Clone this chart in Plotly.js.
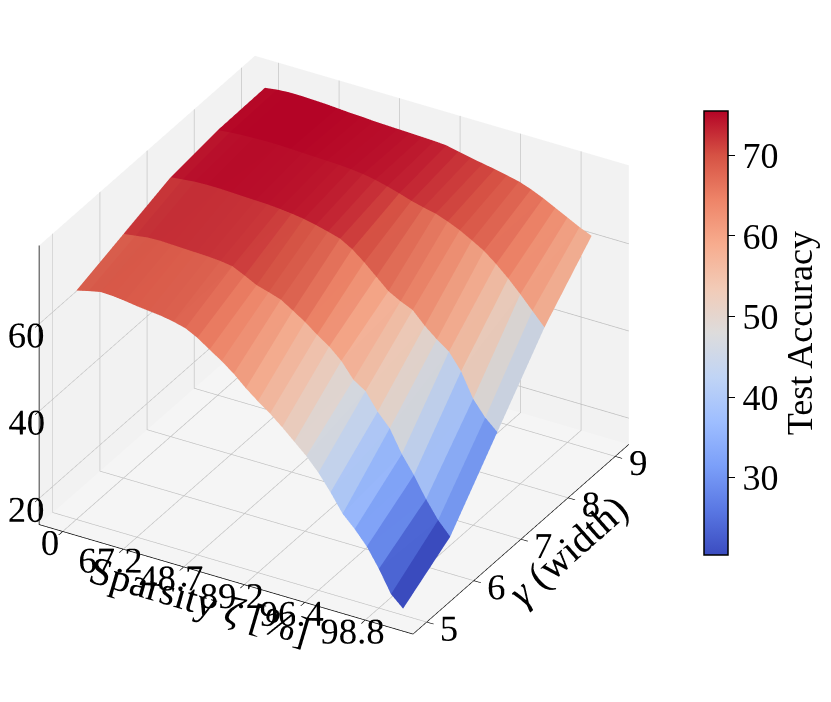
<!DOCTYPE html>
<html>
<head>
<meta charset="utf-8">
<script src="https://cdn.plot.ly/plotly-3.0.1.min.js"></script>
<style>
  html, body { margin: 0; padding: 0; background: #ffffff; }
  #chart { width: 831px; height: 702px; }
</style>
</head>
<body>
<div id="chart"></div>
<script>
// ---- data ----
const sparsityLabels = ["0", "67.2", "48.7", "89.2", "96.4", "98.8"];
const sparsityTickPos = [0, 1, 2, 3, 4, 5];
const sparsityGrid = [0, 0.2, 0.4, 0.6, 0.8, 1.0, 1.2, 1.4, 1.6, 1.8, 2.0, 2.2, 2.4, 2.6,
                      2.8, 3.0, 3.2, 3.4, 3.6, 3.8, 4.0, 4.2, 4.4, 4.6, 4.8, 5.0, 5.2, 5.4];
const widthValues = [5, 6, 7, 8, 9];

const accWidth5 = [66.5, 67.2, 67.8, 67.7, 67.4, 67.0, 66.7, 66.4, 65.9, 65.2, 63.8, 61.9, 60.1, 58.0,
                   55.5, 53.3, 51.3, 49.0, 46.5, 44.0, 41.0, 37.3, 33.2, 30.5, 27.3, 23.0, 18.0, 15.5];
const accWidth6 = [70.0, 70.4, 70.8, 70.9, 70.8, 70.7, 70.6, 70.5, 70.3, 69.9, 68.6, 67.2, 66.4, 65.5,
                   63.8, 62.0, 59.9, 58.0, 55.5, 52.0, 50.2, 46.3, 43.3, 38.2, 34.2, 29.5, 25.5, 22.5];
const accWidth7 = [73.5, 73.8, 74.1, 74.2, 74.2, 74.1, 74.0, 73.9, 73.8, 73.6, 73.3, 72.9, 72.3, 71.6,
                   70.8, 69.2, 67.0, 64.5, 62.0, 60.5, 59.3, 56.5, 54.2, 52.2, 48.5, 43.0, 39.5, 37.0];
const accWidth8 = [74.8, 75.1, 75.3, 75.4, 75.5, 75.5, 75.4, 75.3, 75.2, 75.1, 75.0, 74.8, 74.5, 74.0,
                   73.3, 72.5, 71.6, 70.9, 70.3, 69.3, 68.1, 66.6, 65.0, 62.8, 60.3, 57.5, 54.5, 51.5];
const accWidth9 = [75.0, 75.4, 75.6, 75.6, 75.5, 75.4, 75.2, 75.0, 74.9, 74.7, 74.6, 74.5, 74.4, 74.3,
                   74.2, 74.0, 73.4, 72.8, 72.3, 71.8, 71.2, 70.6, 69.6, 68.4, 67.0, 65.6, 64.2, 63.0];
const accuracyRows = [accWidth5, accWidth6, accWidth7, accWidth8, accWidth9];

const accTicks = [20, 40, 60];
const colorbarTicks = [30, 40, 50, 60, 70];

// matplotlib "coolwarm"
const coolwarm = [
  [0.0, '#3b4cc0'], [0.1, '#5977e3'], [0.2, '#7b9ff9'], [0.3, '#9ebeff'],
  [0.4, '#c0d4f5'], [0.5, '#dddcdc'], [0.6, '#f2cbb7'], [0.7, '#f7ac8e'],
  [0.8, '#ee8468'], [0.9, '#d65244'], [1.0, '#b40426']
];

// ---- build a faceted surface (one flat colour per grid cell, like plot_surface) ----
const nx = sparsityGrid.length, ny = widthValues.length;
const vx = [], vy = [], vz = [];
for (let r = 0; r < ny; r++) {
  for (let c = 0; c < nx; c++) {
    vx.push(sparsityGrid[c]);
    vy.push(widthValues[r]);
    vz.push(accuracyRows[r][c]);
  }
}
const ti = [], tj = [], tk = [], cellValue = [];
for (let r = 0; r < ny - 1; r++) {
  for (let c = 0; c < nx - 1; c++) {
    const a = r * nx + c, b = r * nx + c + 1, d = (r + 1) * nx + c + 1, e = (r + 1) * nx + c;
    const avg = (vz[a] + vz[b] + vz[d] + vz[e]) / 4;
    ti.push(a); tj.push(b); tk.push(d); cellValue.push(avg);
    ti.push(a); tj.push(d); tk.push(e); cellValue.push(avg);
  }
}

const serif = 'Liberation Serif, Times New Roman, serif';
const fontBig = {family: serif, size: 36, color: '#000000'};
const font3dTick = {family: serif, size: 21, color: '#000000'};
const font3dTitle = {family: serif, size: 40, color: '#000000'};

const trace = {
  type: 'mesh3d',
  x: vx, y: vy, z: vz,
  i: ti, j: tj, k: tk,
  intensity: cellValue,
  intensitymode: 'cell',
  colorscale: coolwarm,
  flatshading: true,
  hoverinfo: 'skip',
  lighting: {ambient: 0.92, diffuse: 0.12, specular: 0, roughness: 1, fresnel: 0},
  colorbar: {
    x: 0.851, xanchor: 'left',
    y: 0.195, yanchor: 'bottom',
    len: 0.661, lenmode: 'fraction',
    thickness: 24,
    outlinewidth: 1.5, outlinecolor: '#000000',
    ticks: 'outside', ticklen: 7, tickwidth: 1.2, tickcolor: '#000000',
    tickvals: colorbarTicks,
    tickfont: fontBig,
    title: {text: 'Test Accuracy', side: 'right', font: fontBig}
  }
};

function axisStyle(extra) {
  return Object.assign({
    showbackground: true,
    gridcolor: 'rgb(190,190,190)', gridwidth: 1.5,
    showline: true, linecolor: '#000000', linewidth: 1.5,
    ticks: 'outside', ticklen: 8, tickwidth: 1.5, tickcolor: '#000000',
    tickfont: font3dTick, tickangle: 0,
    zeroline: false, showspikes: false
  }, extra);
}

const boxScale = 1.23;
const layout = {
  width: 831, height: 702,
  margin: {l: 0, r: 0, t: 0, b: 0},
  paper_bgcolor: '#ffffff',
  showlegend: false,
  scene: {
    domain: {x: [0.0, 0.82], y: [0.0, 1.0]},
    aspectmode: 'manual',
    aspectratio: {x: boxScale, y: boxScale, z: 0.75 * boxScale},
    camera: {
      eye: {x: 0.433 * 2.0, y: -0.75 * 2.0, z: 0.5 * 2.0},
      up: {x: 0, y: 0, z: 1},
      center: {x: 0, y: 0, z: -0.02},
      projection: {type: 'orthographic'}
    },
    xaxis: axisStyle({
      title: {text: '<br>Sparsity <i>ζ</i> [%]', font: font3dTitle},
      range: [-0.39, 5.79],
      tickvals: sparsityTickPos, ticktext: sparsityLabels,
      backgroundcolor: 'rgb(242,242,242)'
    }),
    yaxis: axisStyle({
      title: {text: '<i>γ</i> (width)', font: font3dTitle},
      range: [4.71, 9.29],
      tickvals: widthValues,
      backgroundcolor: 'rgb(242,242,242)'
    }),
    zaxis: axisStyle({
      title: {text: ''},
      range: [14, 78],
      tickvals: accTicks,
      backgroundcolor: 'rgb(245,245,245)'
    })
  }
};

Plotly.newPlot('chart', [trace], layout, {displayModeBar: false});
</script>
</body>
</html>
